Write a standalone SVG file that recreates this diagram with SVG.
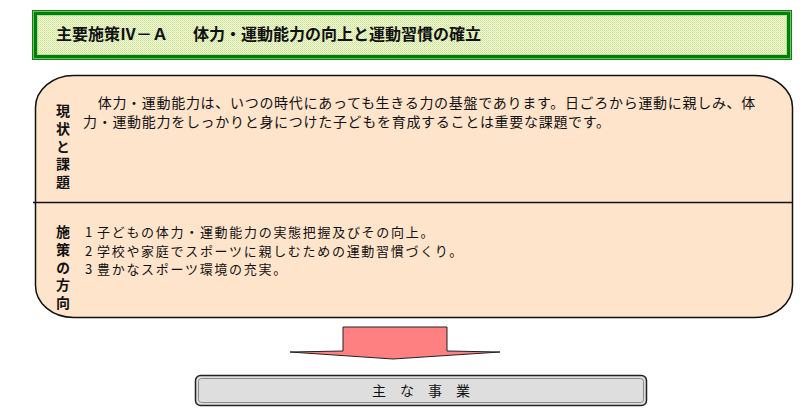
<svg xmlns="http://www.w3.org/2000/svg" width="805" height="416" viewBox="0 0 805 416">
<defs>
<pattern id="dither" width="2" height="2" patternUnits="userSpaceOnUse">
<rect width="2" height="2" fill="#f2f9dc"/>
<rect x="0" y="0" width="1" height="1" fill="#c6e08c"/>
<rect x="1" y="1" width="1" height="1" fill="#d6e9a6"/>
</pattern>
<style>
.body{font-family:"Noto Sans CJK JP","Noto Sans CJK SC",sans-serif;font-size:14px;fill:#111;letter-spacing:0.7px}
.list{font-family:"Noto Sans CJK JP","Noto Sans CJK SC",sans-serif;font-size:13px;fill:#111;letter-spacing:1.7px}
.vlbl{font-family:"Noto Sans CJK JP","Noto Sans CJK SC",sans-serif;font-size:14px;font-weight:bold;fill:#111;writing-mode:vertical-rl;letter-spacing:3.7px}
.title{font-family:"Noto Sans CJK JP","Noto Sans CJK SC",sans-serif;font-size:16px;font-weight:bold;fill:#111}
</style>
</defs>
<rect width="805" height="416" fill="#ffffff"/>

<g id="header">
<rect x="32.5" y="10.5" width="759" height="49" fill="#6cc26c" stroke="#1a7a1a" stroke-width="1"/>
<rect x="35.5" y="13.5" width="753" height="43" fill="none" stroke="#008000" stroke-width="3"/>
<rect x="37.5" y="15.5" width="749" height="39" fill="url(#dither)" stroke="#b8dca0" stroke-width="1"/>
<text class="title" y="40"><tspan x="56">主要施策Ⅳ－Ａ</tspan><tspan x="193">体力・運動能力の向上と運動習慣の確立</tspan></text>
</g>

<g id="panel">
<rect x="35.5" y="75.5" width="757" height="242" rx="38" ry="32" fill="#ffe4cc" stroke="#111" stroke-width="1.5"/>
<line x1="33" y1="202.5" x2="793" y2="202.5" stroke="#111" stroke-width="1.3"/>
</g>

<g id="current">
<text class="vlbl" x="63" y="104">現状と課題</text>
<text class="body"><tspan x="83" y="108">　体力・運動能力は、いつの時代にあっても生きる力の基盤であります。日ごろから運動に親しみ、体</tspan><tspan x="83" y="127">力・運動能力をしっかりと身につけた子どもを育成することは重要な課題です。</tspan></text>
</g>

<g id="direction">
<text class="vlbl" x="63" y="225">施策の方向</text>
<text class="list"><tspan x="85" y="237">1</tspan><tspan x="97" y="237">子どもの体力・運動能力の実態把握及びその向上。</tspan><tspan x="85" y="255.5">2</tspan><tspan x="97" y="255.5">学校や家庭でスポーツに親しむための運動習慣づくり。</tspan><tspan x="85" y="274">3</tspan><tspan x="97" y="274">豊かなスポーツ環境の充実。</tspan></text>
</g>

<g id="connectors">
<polygon points="343,327 447,327 447,351 500,352 393,359 290,352 343,351" fill="#ff8080" stroke="#222" stroke-width="1" stroke-linejoin="miter"/>
</g>

<g id="main-projects">
<rect x="195.5" y="375.5" width="451" height="30" rx="5" fill="#dedede" stroke="#222" stroke-width="1.5"/>
<rect x="198.5" y="378.5" width="445" height="24" rx="3" fill="none" stroke="#8a8a8a" stroke-width="1"/>
<text x="421" y="396" font-family="Noto Sans CJK JP, Noto Sans CJK SC, sans-serif" font-size="14" fill="#111" text-anchor="middle">主　な　事　業</text>
</g>
</svg>
